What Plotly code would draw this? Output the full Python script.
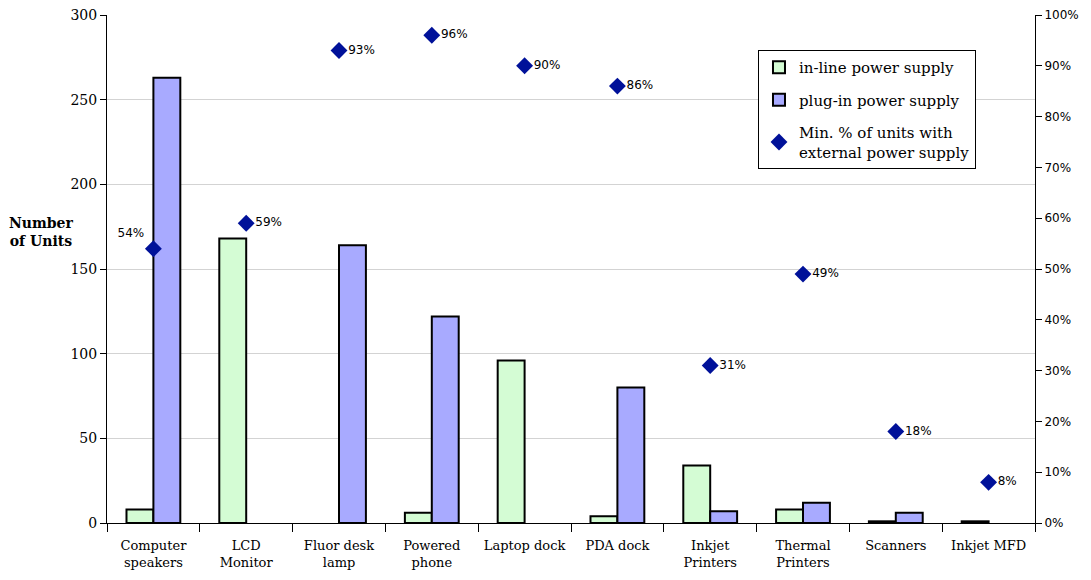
import plotly.graph_objects as go

categories = ["Computer<br>speakers", "LCD<br>Monitor", "Fluor desk<br>lamp", "Powered<br>phone",
              "Laptop dock", "PDA dock", "Inkjet<br>Printers", "Thermal<br>Printers",
              "Scanners", "Inkjet MFD"]
# None = no units of that kind (no bar drawn)
inline_units = [8, 168, None, 6, 96, 4, 34, 8, 1, 1]
plugin_units = [263, None, 164, 122, None, 80, 7, 12, 6, None]
min_pct_external = [0.54, 0.59, 0.93, 0.96, 0.90, 0.86, 0.31, 0.49, 0.18, 0.08]

serif = "DejaVu Serif"
sans = "DejaVu Sans"

fig = go.Figure()
fig.add_trace(go.Bar(
    x=categories, y=inline_units, name="in-line power supply", legendgroup="a",
    marker=dict(color="#d4fcd4", line=dict(color="black", width=2)),
))
fig.add_trace(go.Bar(
    x=categories, y=plugin_units, name="plug-in power supply", legendgroup="b",
    marker=dict(color="#a8aaff", line=dict(color="black", width=2)),
))
label_pos = ["top left"] + ["middle right"] * (len(categories) - 1)
fig.add_trace(go.Scatter(
    x=categories, y=min_pct_external, yaxis="y2", mode="markers+text", legendgroup="c",
    name="Min. % of units with<br>external power supply",
    marker=dict(symbol="diamond", size=13, color="#001199"),
    text=[f"{round(v * 100)}%" for v in min_pct_external],
    textposition=label_pos,
    textfont=dict(family=sans, size=12, color="black"),
))

fig.update_layout(
    width=1091, height=580,
    margin=dict(l=107, r=56, t=15, b=57, autoexpand=False),
    paper_bgcolor="white", plot_bgcolor="white",
    barmode="group", bargap=0.42, bargroupgap=0,
    font=dict(family=serif, size=13, color="black"),
    showlegend=True,
    legend=dict(
        x=0.7015, y=0.931, xanchor="left", yanchor="top",
        bgcolor="white", bordercolor="black", borderwidth=1,
        font=dict(family=serif, size=15), traceorder="grouped",
        tracegroupgap=10, itemwidth=30,
    ),
    xaxis=dict(
        automargin=False, range=[-0.5, len(categories) - 0.5], tickangle=0,
        showline=True, linecolor="black", linewidth=1,
        ticks="outside", ticklen=8, tickcolor="black", tickson="boundaries",
        ticklabelstandoff=10,
        tickfont=dict(family=serif, size=13),
    ),
    yaxis=dict(
        automargin=False,
        range=[0, 300], dtick=50, showline=True, linecolor="black", linewidth=1,
        ticks="outside", ticklen=6, tickcolor="black",
        showgrid=True, gridcolor="#d3d3d3", gridwidth=1, zeroline=False,
        tickfont=dict(family=serif, size=14),
    ),
    yaxis2=dict(
        automargin=False,
        range=[0, 1], dtick=0.1, tickformat=".0%", overlaying="y", side="right",
        showline=True, linecolor="black", linewidth=1,
        ticks="outside", ticklen=6, tickcolor="black",
        showgrid=False, zeroline=False,
        tickfont=dict(family=sans, size=12),
    ),
    annotations=[dict(
        text="<b>Number<br>of Units</b>", xref="paper", yref="paper",
        x=-0.071, y=0.572, xanchor="center", yanchor="middle", showarrow=False,
        font=dict(family=serif, size=14),
    )],
)

fig.write_html("out.html")
